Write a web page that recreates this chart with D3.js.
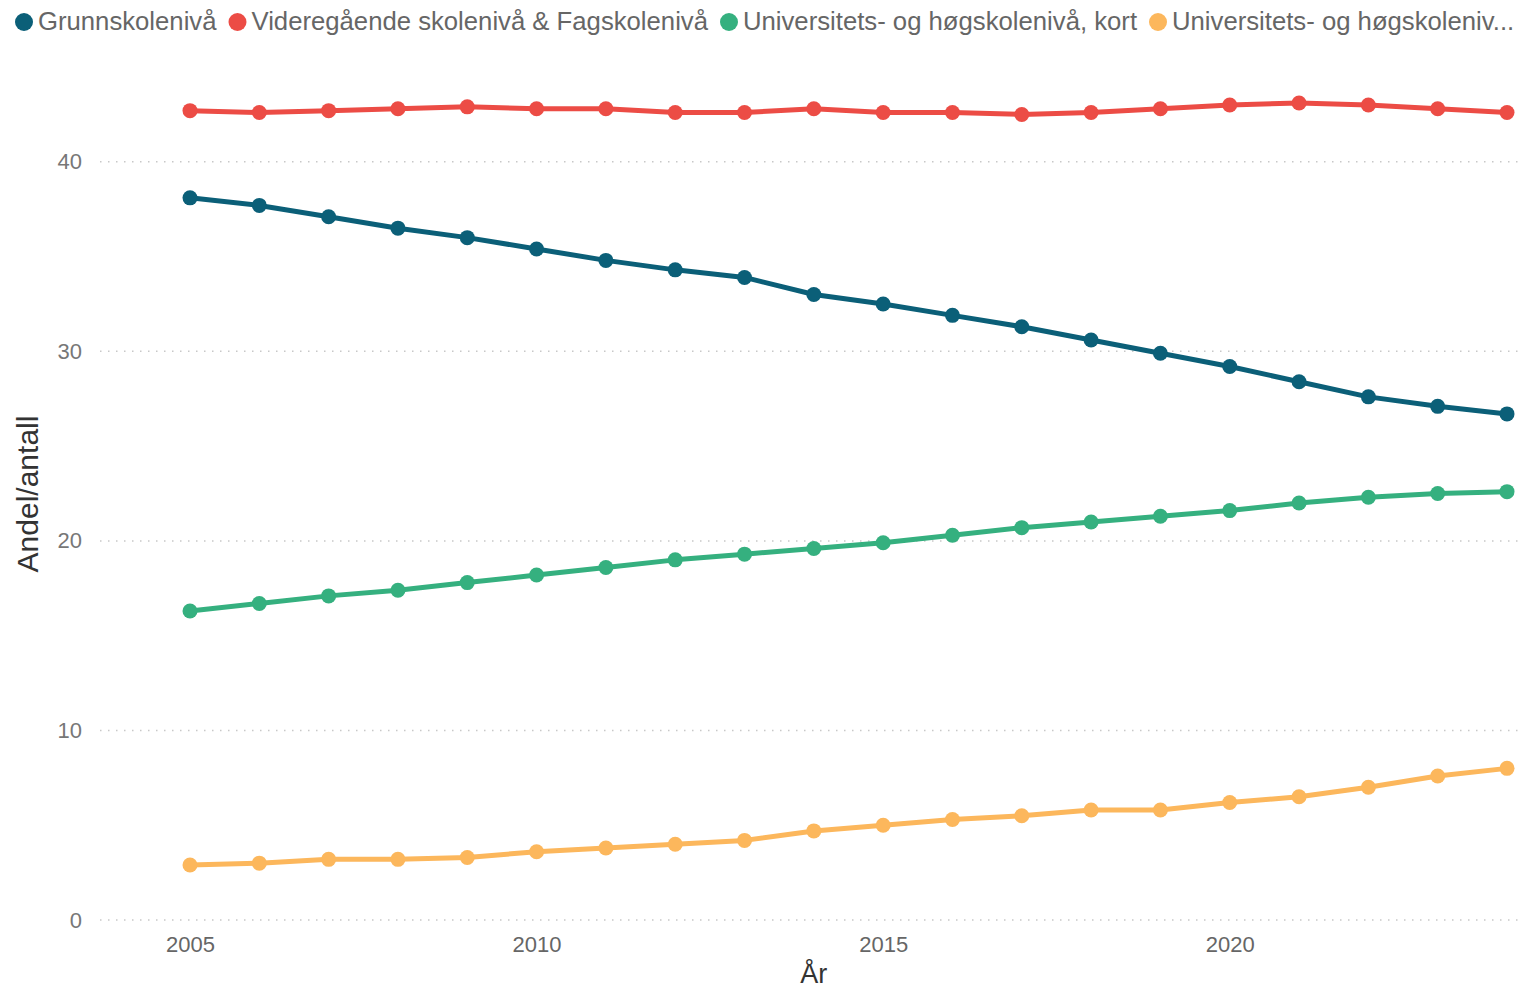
<!DOCTYPE html>
<html>
<head>
<meta charset="utf-8">
<script src="https://cdn.jsdelivr.net/npm/d3@7"></script>
<style>
  body { margin: 0; background: #fff; }
  svg { display: block; font-family: "Segoe UI", "Liberation Sans", Arial, sans-serif; }
</style>
</head>
<body>
<svg id="chart"></svg>
<script>
// data
const years = [2005,2006,2007,2008,2009,2010,2011,2012,2013,2014,2015,2016,2017,2018,2019,2020,2021,2022,2023,2024]
const grunnskole = [38.1,37.7,37.1,36.5,36.0,35.4,34.8,34.3,33.9,33.0,32.5,31.9,31.3,30.6,29.9,29.2,28.4,27.6,27.1,26.7]
const videregaende = [42.7,42.6,42.7,42.8,42.9,42.8,42.8,42.6,42.6,42.8,42.6,42.6,42.5,42.6,42.8,43.0,43.1,43.0,42.8,42.6]
const uniKort = [16.3,16.7,17.1,17.4,17.8,18.2,18.6,19.0,19.3,19.6,19.9,20.3,20.7,21.0,21.3,21.6,22.0,22.3,22.5,22.6]
const uniLang = [2.9,3.0,3.2,3.2,3.3,3.6,3.8,4.0,4.2,4.7,5.0,5.3,5.5,5.8,5.8,6.2,6.5,7.0,7.6,8.0]
const seriesNames = ["Grunnskolenivå", "Videregående skolenivå & Fagskolenivå", "Universitets- og høgskolenivå, kort", "Universitets- og høgskolenivå, lang"]
const seriesColors = ["#0b5f78", "#ec4c45", "#35b07f", "#fcb75c"]
const yTicks = [0, 10, 20, 30, 40]
const xTicks = [2005, 2010, 2015, 2020]

const width = 1521
const height = 988
const margin = {top: 86, right: 14, bottom: 68, left: 100}

const series = [grunnskole, videregaende, uniKort, uniLang].map((vals, i) => ({
    name: seriesNames[i],
    color: seriesColors[i],
    values: vals.map((v, j) => ({year: years[j], val: v}))
}))

const svg = d3.select("#chart").attr("width", width).attr("height", height)

const x = d3.scaleLinear()
    .domain([2005, 2024])
    .range([190, width - margin.right])
const y = d3.scaleLinear()
    .domain([0, 44])
    .range([height - margin.bottom, margin.top])

// gridlines
svg.append("g").selectAll("line")
    .data(yTicks)
    .join("line")
    .attr("x1", margin.left)
    .attr("x2", width - 3)
    .attr("y1", d => y(d))
    .attr("y2", d => y(d))
    .attr("stroke", "#c8c8c8")
    .attr("stroke-width", 1.5)
    .attr("stroke-dasharray", "1.5,6.5")

// y axis
const yAxis = svg.append("g")
    .attr("transform", `translate(${margin.left - 18},0)`)
    .call(d3.axisLeft(y).tickValues(yTicks).tickSize(0).tickPadding(0))
yAxis.select(".domain").remove()
yAxis.selectAll("text").attr("fill", "#777").attr("font-size", 22).attr("font-family", null)

// x axis
const xAxis = svg.append("g")
    .attr("transform", `translate(0,${y(0) + 16})`)
    .call(d3.axisBottom(x).tickValues(xTicks).tickFormat(d3.format("d")).tickSize(0).tickPadding(0))
xAxis.select(".domain").remove()
xAxis.selectAll("text").attr("fill", "#666").attr("font-size", 22).attr("font-family", null)

// axis titles
svg.append("text")
    .attr("transform", `translate(38,494) rotate(-90)`)
    .attr("text-anchor", "middle")
    .attr("fill", "#333")
    .attr("font-size", 30)
    .text("Andel/antall")
svg.append("text")
    .attr("x", x(2014))
    .attr("y", 983)
    .attr("text-anchor", "middle")
    .attr("fill", "#333")
    .attr("font-size", 27)
    .text("År")

// lines + markers
const line = d3.line().x(d => x(d.year)).y(d => y(d.val))
const sg = svg.append("g").selectAll("g")
    .data(series)
    .join("g")
sg.append("path")
    .attr("d", d => line(d.values))
    .attr("fill", "none")
    .attr("stroke", d => d.color)
    .attr("stroke-width", 5)
    .attr("stroke-linejoin", "round")
sg.selectAll("circle")
    .data(d => d.values.map(v => ({...v, color: d.color})))
    .join("circle")
    .attr("cx", d => x(d.year))
    .attr("cy", d => y(d.val))
    .attr("r", 7.5)
    .attr("fill", d => d.color)

// legend
const legend = svg.append("g")
let lx = 24
series.forEach((s, i) => {
    legend.append("circle")
        .attr("cx", lx)
        .attr("cy", 22)
        .attr("r", 9)
        .attr("fill", s.color)
    const t = legend.append("text")
        .attr("x", lx + 14)
        .attr("y", 30)
        .attr("fill", "#666")
        .attr("font-size", 25.7)
        .text(s.name)
    // truncate if it runs past the edge
    let label = s.name
    while (lx + 14 + t.node().getComputedTextLength() > width - 6 && label.length > 1) {
        label = label.slice(0, -1)
        t.text(label + "...")
    }
    lx += 14 + t.node().getComputedTextLength() + 21
})
</script>
</body>
</html>
